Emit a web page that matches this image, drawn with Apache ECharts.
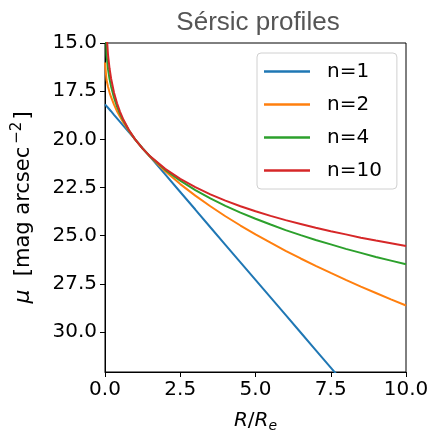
<!DOCTYPE html>
<html>
<head>
<meta charset="utf-8">
<script src="https://cdn.jsdelivr.net/npm/echarts@6/dist/echarts.min.js"></script>
<style>
  html, body { margin: 0; padding: 0; background: #fff; }
  #chart { width: 433px; height: 431px; }
</style>
</head>
<body>
<div id="chart"></div>
<script>
// Radius in units of the effective radius
const R = [0, 0.05, 0.1, 0.15, 0.2, 0.3, 0.4, 0.5, 0.6, 0.8,
           1.0, 1.25, 1.5, 2, 2.5, 3, 3.5, 4, 4.5, 5,
           5.5, 6, 6.5, 7, 7.5, 8, 8.5, 9, 9.5, 10];

// Surface brightness (mag arcsec^-2) for each Sérsic index
const mu_n1  = [18.18, 18.27, 18.36, 18.45, 18.54, 18.73, 18.91, 19.09, 19.27, 19.64,
                20.00, 20.46, 20.91, 21.82, 22.73, 23.64, 24.56, 25.47, 26.38, 27.29,
                28.20, 29.11, 30.02, 30.93, 31.84, 32.75, 33.67, 34.58, 35.49, 36.40];
const mu_n2  = [16.01, 16.91, 17.27, 17.56, 17.80, 18.20, 18.54, 18.83, 19.10, 19.58,
                20.00, 20.47, 20.90, 21.65, 22.32, 22.92, 23.47, 23.99, 24.47, 24.93,
                25.36, 25.78, 26.18, 26.56, 26.93, 27.29, 27.64, 27.97, 28.30, 28.62];
const mu_n4  = [11.67, 15.61, 16.36, 16.86, 17.24, 17.84, 18.30, 18.68, 19.00, 19.55,
                20.00, 20.48, 20.89, 21.58, 22.14, 22.63, 23.06, 23.45, 23.80, 24.12,
                24.42, 24.71, 24.97, 25.22, 25.45, 25.68, 25.89, 26.10, 26.29, 26.48];
const mu_n10 = [-1.35, 14.47, 15.61, 16.31, 16.83, 17.58, 18.13, 18.57, 18.94, 19.53,
                20.00, 20.48, 20.88, 21.53, 22.05, 22.48, 22.85, 23.18, 23.47, 23.73,
                23.97, 24.19, 24.39, 24.59, 24.77, 24.93, 25.10, 25.25, 25.39, 25.53];

const seriesNames = ['n=1', 'n=2', 'n=4', 'n=10'];
const seriesColors = ['#1f77b4', '#ff7f0e', '#2ca02c', '#d62728'];

const xTicks = [0, 2.5, 5, 7.5, 10];
const yTicks = [15, 17.5, 20, 22.5, 25, 27.5, 30];

const profiles = [mu_n1, mu_n2, mu_n4, mu_n10];

const chart = echarts.init(document.getElementById('chart'), null, { renderer: 'canvas' });

const tickFont = { fontFamily: 'DejaVu Sans', fontSize: 20, color: '#000' };

chart.setOption({
  backgroundColor: '#fff',
  animation: false,
  title: {
    text: 'Sérsic profiles',
    left: 253,
    textAlign: 'center',
    top: 5,
    textStyle: { fontFamily: 'Liberation Sans', fontSize: 26, fontWeight: 'normal', color: '#555' }
  },
  grid: {
    left: 105, right: 27, top: 43, bottom: 59,
    outerBoundsMode: 'none',
    containLabel: false,
    show: true, borderColor: '#000', borderWidth: 1
  },
  legend: {
    orient: 'vertical',
    left: 257, top: 53,
    padding: [8, 15, 8, 7],
    itemWidth: 46, itemHeight: 2.5,
    itemGap: 12,
    icon: 'rect',
    backgroundColor: '#fff',
    borderColor: '#d0d0d0', borderWidth: 1, borderRadius: 4,
    textStyle: { fontFamily: 'DejaVu Sans', fontSize: 20, color: '#000', lineHeight: 21, padding: [0, 0, 0, 12] },
    data: seriesNames
  },
  xAxis: {
    type: 'value',
    min: 0, max: 10, interval: 2.5,
    name: '{i|R}/{i|R}{sub|e}',
    nameLocation: 'middle',
    nameGap: 37,
    nameTextStyle: {
      fontFamily: 'DejaVu Sans', fontSize: 20, color: '#000',
      rich: {
        i: { fontFamily: 'DejaVu Sans', fontStyle: 'italic', fontSize: 20 },
        sub: { fontFamily: 'DejaVu Sans', fontStyle: 'italic', fontSize: 14, padding: [10, 0, 0, 0] }
      }
    },
    axisLine: { show: true, lineStyle: { color: '#000', width: 1 } },
    axisTick: { show: true, inside: false, length: 5, lineStyle: { color: '#000' }, customValues: xTicks },
    axisLabel: { ...tickFont, margin: 8, customValues: xTicks, formatter: v => v.toFixed(1) },
    splitLine: { show: false }
  },
  yAxis: {
    type: 'value',
    inverse: true,
    min: 15, max: 32.07, interval: 2.5,
    name: '{i|μ}  [mag arcsec{sup|−2}]',
    nameLocation: 'middle',
    nameRotate: 90,
    nameGap: 68,
    nameTextStyle: {
      fontFamily: 'DejaVu Sans', fontSize: 21, color: '#000',
      rich: {
        i: { fontFamily: 'DejaVu Sans', fontStyle: 'italic', fontSize: 22 },
        sup: { fontFamily: 'DejaVu Sans', fontSize: 15, padding: [0, 2, 12, 3] }
      }
    },
    axisLine: { show: true, lineStyle: { color: '#000', width: 1 } },
    axisTick: { show: true, inside: false, length: 5, lineStyle: { color: '#000' }, customValues: yTicks },
    axisLabel: { ...tickFont, margin: 8, customValues: yTicks, formatter: v => v.toFixed(1) },
    splitLine: { show: false }
  },
  series: profiles.map((mu, k) => ({
    name: seriesNames[k],
    type: 'line',
    data: R.map((r, i) => [r, mu[i]]),
    showSymbol: false,
    smooth: false,
    clip: true,
    color: seriesColors[k],
    lineStyle: { width: 2, color: seriesColors[k] }
  }))
});
</script>
</body>
</html>
